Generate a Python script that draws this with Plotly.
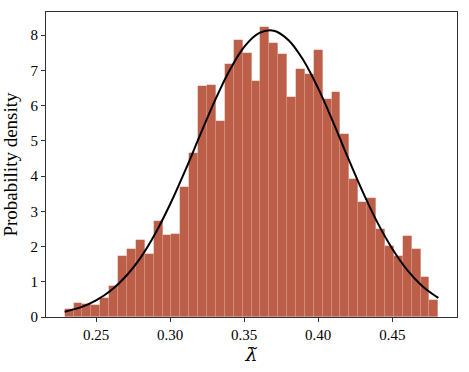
import plotly.graph_objects as go

# histogram: 42 equal bins between bin_start and bin_end
bin_start = 0.2288
bin_end = 0.4811
densities = [0.22, 0.39, 0.37, 0.33, 0.55, 0.87, 1.72, 1.94, 2.20, 1.80,
             2.73, 2.33, 2.36, 3.68, 4.67, 6.57, 6.60, 5.57, 7.18, 7.86,
             7.50, 6.70, 8.24, 7.78, 7.48, 6.25, 7.05, 6.90, 7.58, 6.19,
             6.40, 5.21, 3.91, 3.26, 3.39, 2.50, 2.03, 1.72, 2.30, 1.94,
             1.14, 0.48]

# fitted density curve
curve_x = [0.2288, 0.24, 0.25, 0.26, 0.27, 0.28, 0.29, 0.30, 0.31, 0.32,
           0.33, 0.34, 0.35, 0.36, 0.37, 0.38, 0.39, 0.40, 0.41, 0.42,
           0.43, 0.44, 0.45, 0.46, 0.47, 0.48, 0.4811]
curve_y = [0.15, 0.28, 0.47, 0.75, 1.15, 1.68, 2.37, 3.20, 4.14, 5.14,
           6.12, 6.99, 7.67, 8.06, 8.13, 7.86, 7.29, 6.49, 5.54, 4.53,
           3.56, 2.68, 1.94, 1.34, 0.89, 0.57, 0.54]

x_ticks = [0.25, 0.30, 0.35, 0.40, 0.45]
x_labels = ['0.25', '0.30', '0.35', '0.40', '0.45']
y_ticks = list(range(9))

n_bins = len(densities)
width = (bin_end - bin_start) / n_bins
centers = [bin_start + width * (i + 0.5) for i in range(n_bins)]

FONT = 'Liberation Serif'

fig = go.Figure()
fig.add_trace(go.Bar(
    x=centers,
    y=densities,
    width=width,
    marker=dict(color='#bc5e48', line=dict(color='rgba(255,255,255,0.15)', width=0.6)),
    showlegend=False,
))
fig.add_trace(go.Scatter(
    x=curve_x,
    y=curve_y,
    mode='lines',
    line=dict(color='black', width=2, shape='spline'),
    showlegend=False,
))

fig.update_layout(
    width=469,
    height=372,
    margin=dict(l=46, r=12, t=12, b=55),
    plot_bgcolor='white',
    paper_bgcolor='white',
    bargap=0,
    font=dict(family=FONT, size=15, color='black'),
)
fig.update_xaxes(
    range=[0.2162, 0.4937],
    tickvals=x_ticks,
    ticktext=x_labels,
    ticks='outside', ticklen=4, tickcolor='#333',
    showline=True, linecolor='#333', linewidth=1, mirror=True,
    showgrid=False, zeroline=False, automargin=False,
    tickfont=dict(size=15),
    title=dict(text='<i>λ̃</i>', font=dict(family='DejaVu Serif', size=19), standoff=2),
)
fig.update_yaxes(
    range=[0, 8.66],
    tickvals=y_ticks,
    ticks='outside', ticklen=4, tickcolor='#333',
    showline=True, linecolor='#333', linewidth=1, mirror=True,
    showgrid=False, zeroline=False, automargin=False,
    tickfont=dict(size=15),
    title=dict(text='Probability density', font=dict(size=19), standoff=8),
)

# the page has a default 8px body margin; drop it so the figure fills the window
fig.write_html('out.html', config={'displayModeBar': False},
               post_script="document.body.style.margin = '0';")
